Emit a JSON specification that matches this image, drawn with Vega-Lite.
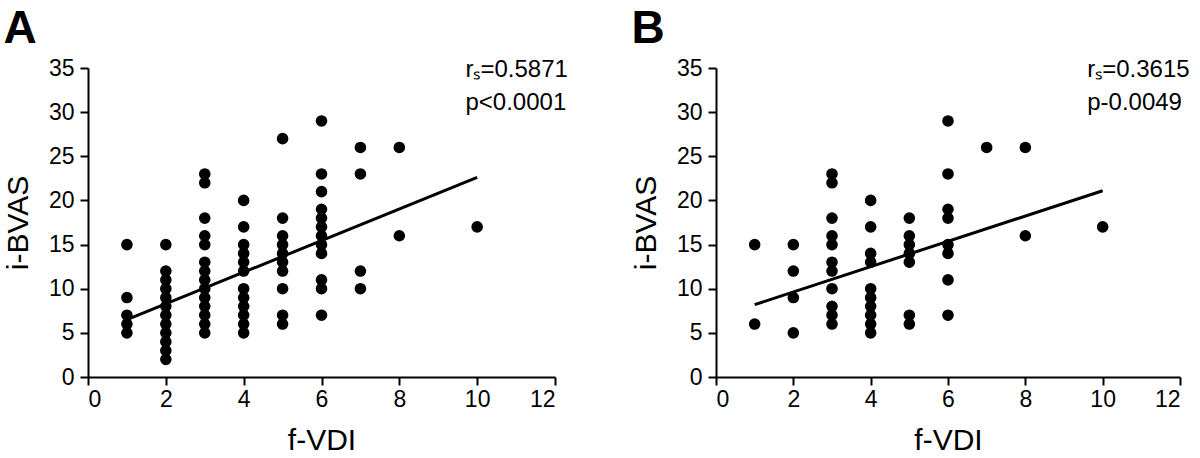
{
  "$schema": "https://vega.github.io/schema/vega-lite/v6.json",
  "background": "white",
  "padding": {"left": 3, "top": 6, "right": 0, "bottom": 0},
  "spacing": 63,
  "config": {
    "font": "Liberation Sans",
    "view": {"stroke": null},
    "axis": {
      "domainColor": "black", "domainWidth": 2, "tickColor": "black", "tickWidth": 2, "tickSize": 8,
      "labelFontSize": 23, "labelColor": "black", "labelFont": "Liberation Sans",
      "titleFontSize": 30, "titleFontWeight": "normal", "titleColor": "black", "titleFont": "Liberation Sans",
      "grid": false
    },
    "axisX": {"labelPadding": 3, "titlePadding": 14},
    "axisY": {"labelPadding": 6, "titlePadding": 15},
    "title": {"fontSize": 46, "fontWeight": "bold", "anchor": "start", "frame": "bounds", "color": "black", "font": "Liberation Sans"}
  },
  "datasets": {
    "a": [
      {"x":1,"y":15},{"x":1,"y":9},{"x":1,"y":7},{"x":1,"y":6},{"x":1,"y":5},
      {"x":2,"y":15},{"x":2,"y":12},{"x":2,"y":11},{"x":2,"y":10},{"x":2,"y":9},{"x":2,"y":8},{"x":2,"y":7},{"x":2,"y":6},{"x":2,"y":5},{"x":2,"y":4},{"x":2,"y":3},{"x":2,"y":2},
      {"x":3,"y":23},{"x":3,"y":22},{"x":3,"y":18},{"x":3,"y":16},{"x":3,"y":15},{"x":3,"y":13},{"x":3,"y":12},{"x":3,"y":11},{"x":3,"y":10},{"x":3,"y":9},{"x":3,"y":8},{"x":3,"y":7},{"x":3,"y":6},{"x":3,"y":5},
      {"x":4,"y":20},{"x":4,"y":17},{"x":4,"y":15},{"x":4,"y":14},{"x":4,"y":13},{"x":4,"y":12},{"x":4,"y":10},{"x":4,"y":9},{"x":4,"y":8},{"x":4,"y":7},{"x":4,"y":6},{"x":4,"y":5},
      {"x":5,"y":27},{"x":5,"y":18},{"x":5,"y":16},{"x":5,"y":15},{"x":5,"y":14},{"x":5,"y":13},{"x":5,"y":12},{"x":5,"y":10},{"x":5,"y":7},{"x":5,"y":6},
      {"x":6,"y":29},{"x":6,"y":23},{"x":6,"y":21},{"x":6,"y":19},{"x":6,"y":18},{"x":6,"y":17},{"x":6,"y":16},{"x":6,"y":15},{"x":6,"y":14},{"x":6,"y":11},{"x":6,"y":10},{"x":6,"y":7},
      {"x":7,"y":26},{"x":7,"y":23},{"x":7,"y":12},{"x":7,"y":10},
      {"x":8,"y":26},{"x":8,"y":16},
      {"x":10,"y":17}
    ],
    "b": [
      {"x":1,"y":15},{"x":1,"y":6},
      {"x":2,"y":15},{"x":2,"y":12},{"x":2,"y":9},{"x":2,"y":5},
      {"x":3,"y":23},{"x":3,"y":22},{"x":3,"y":18},{"x":3,"y":16},{"x":3,"y":15},{"x":3,"y":13},{"x":3,"y":12},{"x":3,"y":10},{"x":3,"y":8},{"x":3,"y":7},{"x":3,"y":6},
      {"x":4,"y":20},{"x":4,"y":17},{"x":4,"y":14},{"x":4,"y":13},{"x":4,"y":10},{"x":4,"y":9},{"x":4,"y":8},{"x":4,"y":7},{"x":4,"y":6},{"x":4,"y":5},
      {"x":5,"y":18},{"x":5,"y":16},{"x":5,"y":15},{"x":5,"y":14},{"x":5,"y":13},{"x":5,"y":7},{"x":5,"y":6},
      {"x":6,"y":29},{"x":6,"y":23},{"x":6,"y":19},{"x":6,"y":18},{"x":6,"y":15},{"x":6,"y":14},{"x":6,"y":11},{"x":6,"y":7},
      {"x":7,"y":26},
      {"x":8,"y":26},{"x":8,"y":16},
      {"x":10,"y":17}
    ],
    "fitA": [{"x":1,"y":6.5},{"x":10,"y":22.6}],
    "fitB": [{"x":1,"y":8.2},{"x":10,"y":21.1}],
    "one": [{}]
  },
  "hconcat": [
    {
      "title": "A",
      "width": 467,
      "height": 309,
      "layer": [
        {
          "data": {"name": "a"},
          "mark": {"type": "point", "filled": true, "color": "black", "opacity": 1, "size": 135},
          "encoding": {
            "x": {"field": "x", "type": "quantitative", "scale": {"domain": [0, 12], "nice": false}, "axis": {"values": [0,2,4,6,8,10,12], "title": "f-VDI"}},
            "y": {"field": "y", "type": "quantitative", "scale": {"domain": [0, 35], "nice": false}, "axis": {"values": [0,5,10,15,20,25,30,35], "title": "i-BVAS"}}
          }
        },
        {
          "data": {"name": "fitA"},
          "mark": {"type": "line", "color": "black", "strokeWidth": 3},
          "encoding": {
            "x": {"field": "x", "type": "quantitative"},
            "y": {"field": "y", "type": "quantitative"}
          }
        },
        {
          "data": {"name": "one"},
          "mark": {"type": "text", "align": "left", "baseline": "middle", "fontSize": 24, "color": "black"},
          "encoding": {"x": {"datum": 9.7}, "y": {"datum": 34.8}, "text": {"value": "rₛ=0.5871"}}
        },
        {
          "data": {"name": "one"},
          "mark": {"type": "text", "align": "left", "baseline": "middle", "fontSize": 24, "color": "black"},
          "encoding": {"x": {"datum": 9.7}, "y": {"datum": 31.0}, "text": {"value": "p<0.0001"}}
        }
      ]
    },
    {
      "title": "B",
      "width": 464,
      "height": 309,
      "layer": [
        {
          "data": {"name": "b"},
          "mark": {"type": "point", "filled": true, "color": "black", "opacity": 1, "size": 135},
          "encoding": {
            "x": {"field": "x", "type": "quantitative", "scale": {"domain": [0, 12], "nice": false}, "axis": {"values": [0,2,4,6,8,10,12], "title": "f-VDI"}},
            "y": {"field": "y", "type": "quantitative", "scale": {"domain": [0, 35], "nice": false}, "axis": {"values": [0,5,10,15,20,25,30,35], "title": "i-BVAS"}}
          }
        },
        {
          "data": {"name": "fitB"},
          "mark": {"type": "line", "color": "black", "strokeWidth": 3},
          "encoding": {
            "x": {"field": "x", "type": "quantitative"},
            "y": {"field": "y", "type": "quantitative"}
          }
        },
        {
          "data": {"name": "one"},
          "mark": {"type": "text", "align": "left", "baseline": "middle", "fontSize": 24, "color": "black"},
          "encoding": {"x": {"datum": 9.6}, "y": {"datum": 34.8}, "text": {"value": "rₛ=0.3615"}}
        },
        {
          "data": {"name": "one"},
          "mark": {"type": "text", "align": "left", "baseline": "middle", "fontSize": 24, "color": "black"},
          "encoding": {"x": {"datum": 9.6}, "y": {"datum": 31.0}, "text": {"value": "p-0.0049"}}
        }
      ]
    }
  ]
}
